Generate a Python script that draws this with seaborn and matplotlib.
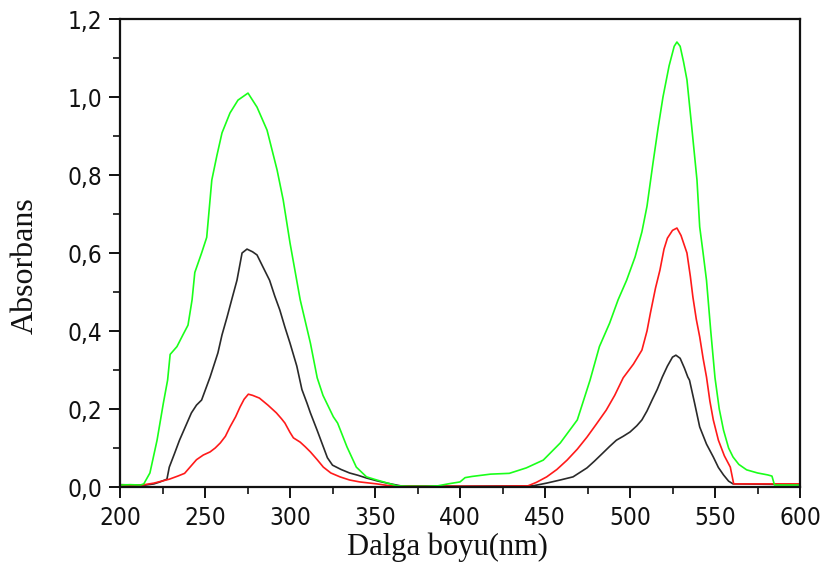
import numpy as np
import pandas as pd
import matplotlib
matplotlib.use("Agg")
import matplotlib.pyplot as plt
from matplotlib.ticker import MultipleLocator, FuncFormatter
import seaborn as sns

# ---- data ----
green_wl = [200, 206, 212, 214, 217.6, 221.8, 225.5, 228, 229.5, 233.5, 237, 240, 242.4, 244, 248, 251,
            254, 257, 260, 264.7, 269.4, 275.3, 280.6, 286.5, 292.4, 296, 300, 306, 312, 316, 319.4,
            325.5, 328, 333.5, 339, 345, 351, 363, 370, 380, 387, 393, 400, 403, 407, 418, 429, 439,
            449, 459, 469, 476.5, 482, 488, 493, 498, 503, 507, 510, 513.5, 516.5, 519.4, 523, 526,
            527.6, 529.5, 531.5, 533.5, 536.5, 539.4, 541, 543, 545, 547.5, 550, 552.5, 555, 558,
            560.6, 564, 568.6, 575, 581, 583.5, 585, 590, 600]
green_abs = [0.005, 0.006, 0.005, 0.008, 0.036, 0.12, 0.215, 0.274, 0.34, 0.36, 0.39, 0.415, 0.48, 0.55,
             0.60, 0.64, 0.787, 0.85, 0.908, 0.959, 0.992, 1.01, 0.974, 0.915, 0.813, 0.736, 0.626,
             0.48, 0.369, 0.28, 0.235, 0.18, 0.164, 0.103, 0.051, 0.026, 0.018, 0.003, 0.002, 0.002,
             0.003, 0.008, 0.013, 0.024, 0.027, 0.033, 0.035, 0.049, 0.069, 0.113, 0.172, 0.274,
             0.36, 0.42, 0.48, 0.53, 0.59, 0.654, 0.72, 0.83, 0.92, 1.0, 1.08, 1.13, 1.141, 1.13,
             1.09, 1.044, 0.915, 0.787, 0.667, 0.6, 0.53, 0.4, 0.28, 0.2, 0.146, 0.1, 0.077, 0.058,
             0.044, 0.036, 0.031, 0.028, 0.005, 0.005, 0.005]

red_wl = [200, 210, 213, 220, 229, 234, 238, 241, 245, 249, 253, 256, 259, 262, 264.7, 268, 270.6, 273,
          275.5, 278, 282, 287, 292, 295, 297, 300, 302, 306, 309, 312, 316, 319.6, 324, 329.4, 335,
          341, 351, 359, 380, 400, 420, 440, 445, 451, 457, 463, 469, 474.7, 480, 486, 491, 496, 502,
          507, 510, 512, 515, 517.6, 520, 522, 525, 527.6, 530, 533.5, 535.5, 537, 539, 541, 543,
          545, 547, 549, 552, 555.5, 559, 561, 600]
red_abs = [0.005, 0.005, 0.005, 0.01, 0.02, 0.028, 0.035, 0.05, 0.07, 0.082, 0.09, 0.1, 0.113, 0.13,
           0.154, 0.18, 0.205, 0.225, 0.238, 0.235, 0.228, 0.21, 0.19, 0.175, 0.164, 0.14, 0.126,
           0.115, 0.103, 0.09, 0.07, 0.051, 0.036, 0.026, 0.018, 0.013, 0.008, 0.003, 0.002, 0.002,
           0.002, 0.003, 0.012, 0.026, 0.045, 0.069, 0.097, 0.128, 0.16, 0.197, 0.235, 0.28, 0.315,
           0.351, 0.4, 0.446, 0.51, 0.556, 0.61, 0.638, 0.658, 0.664, 0.645, 0.6, 0.54, 0.487, 0.43,
           0.385, 0.33, 0.282, 0.22, 0.172, 0.12, 0.08, 0.051, 0.008, 0.008]

black_wl = [200, 210, 215, 220, 223.5, 227.6, 229, 232, 235, 238.5, 242, 245, 248, 253, 257.6, 260, 263,
            266, 268.8, 271.8, 274.7, 278, 280.6, 284, 288, 291, 294, 297, 300, 304, 307, 310, 312,
            316, 319.6, 322, 325, 330, 335, 340, 345, 351, 357, 365, 400, 443, 451, 459, 466.5, 474.7,
            479, 484, 488, 492, 496, 500, 504, 507, 510, 513, 516, 519, 522, 525, 527, 529.5, 532,
            534, 535, 538, 541, 545, 549, 552, 555, 558, 560.6, 600]
black_abs = [0.006, 0.005, 0.005, 0.008, 0.013, 0.02, 0.051, 0.085, 0.12, 0.155, 0.19, 0.21, 0.223,
             0.282, 0.344, 0.39, 0.436, 0.485, 0.53, 0.6, 0.61, 0.603, 0.595, 0.565, 0.53, 0.49, 0.454,
             0.41, 0.369, 0.31, 0.25, 0.215, 0.19, 0.145, 0.103, 0.075, 0.056, 0.045, 0.036, 0.03,
             0.023, 0.016, 0.01, 0.003, 0.002, 0.003, 0.01, 0.018, 0.026, 0.049, 0.066, 0.087, 0.104,
             0.12, 0.13, 0.141, 0.157, 0.172, 0.195, 0.223, 0.25, 0.282, 0.31, 0.333, 0.338, 0.33,
             0.305, 0.282, 0.274, 0.215, 0.154, 0.11, 0.077, 0.05, 0.031, 0.015, 0.008, 0.006]

series_names = ["black", "red", "green"]
series_colors = {"black": "#2a2a2a", "red": "#ff1a1a", "green": "#1aff1a"}

x_ticks = [200, 250, 300, 350, 400, 450, 500, 550, 600]
y_ticks = [0.0, 0.2, 0.4, 0.6, 0.8, 1.0, 1.2]

df = pd.concat([
    pd.DataFrame({"wl": black_wl, "abs": black_abs, "series": "black"}),
    pd.DataFrame({"wl": red_wl, "abs": red_abs, "series": "red"}),
    pd.DataFrame({"wl": green_wl, "abs": green_abs, "series": "green"}),
], ignore_index=True)

sns.set_style("white")

fig = plt.figure(figsize=(8.23, 5.69), dpi=100)
ax = fig.add_axes([120 / 823, 1 - 487 / 569, 680 / 823, 468 / 569])

sns.lineplot(data=df, x="wl", y="abs", hue="series", hue_order=series_names,
             palette=series_colors, estimator=None, sort=False, legend=False,
             linewidth=1.2, ax=ax)

ax.set_xlim(200, 600)
ax.set_ylim(0, 1.2)
ax.set_xticks(x_ticks)
ax.set_yticks(y_ticks)
ax.xaxis.set_minor_locator(MultipleLocator(25))
ax.yaxis.set_minor_locator(MultipleLocator(0.1))
ax.yaxis.set_major_formatter(FuncFormatter(lambda v, p: f"{v:.1f}".replace(".", ",")))

for s in ax.spines.values():
    s.set_visible(True)
    s.set_color("#111111")
    s.set_linewidth(1.6)

ax.tick_params(axis="x", which="major", pad=6)
ax.tick_params(axis="y", which="major", pad=5)
ax.tick_params(which="major", direction="out", length=8, width=1.4, color="#111111",
               bottom=True, left=True, top=False, right=False)
ax.tick_params(which="minor", direction="out", length=5, width=1.2, color="#111111",
               bottom=True, left=True, top=False, right=False)

for lab in ax.get_xticklabels() + ax.get_yticklabels():
    lab.set_fontfamily(["DejaVu Sans"])
    lab.set_fontstretch("condensed")
    lab.set_fontsize(17.5)
    lab.set_color("#111111")

ax.set_xlabel("Dalga boyu(nm)", fontfamily=["Liberation Serif"], fontsize=22, color="#111111")
ax.set_ylabel("Absorbans", fontfamily=["Liberation Serif"], fontsize=23, color="#111111")
ax.xaxis.set_label_coords(0.481, -0.098)
ax.yaxis.set_label_coords(-0.118, 0.472)

fig.savefig("out.png", dpi=100)
